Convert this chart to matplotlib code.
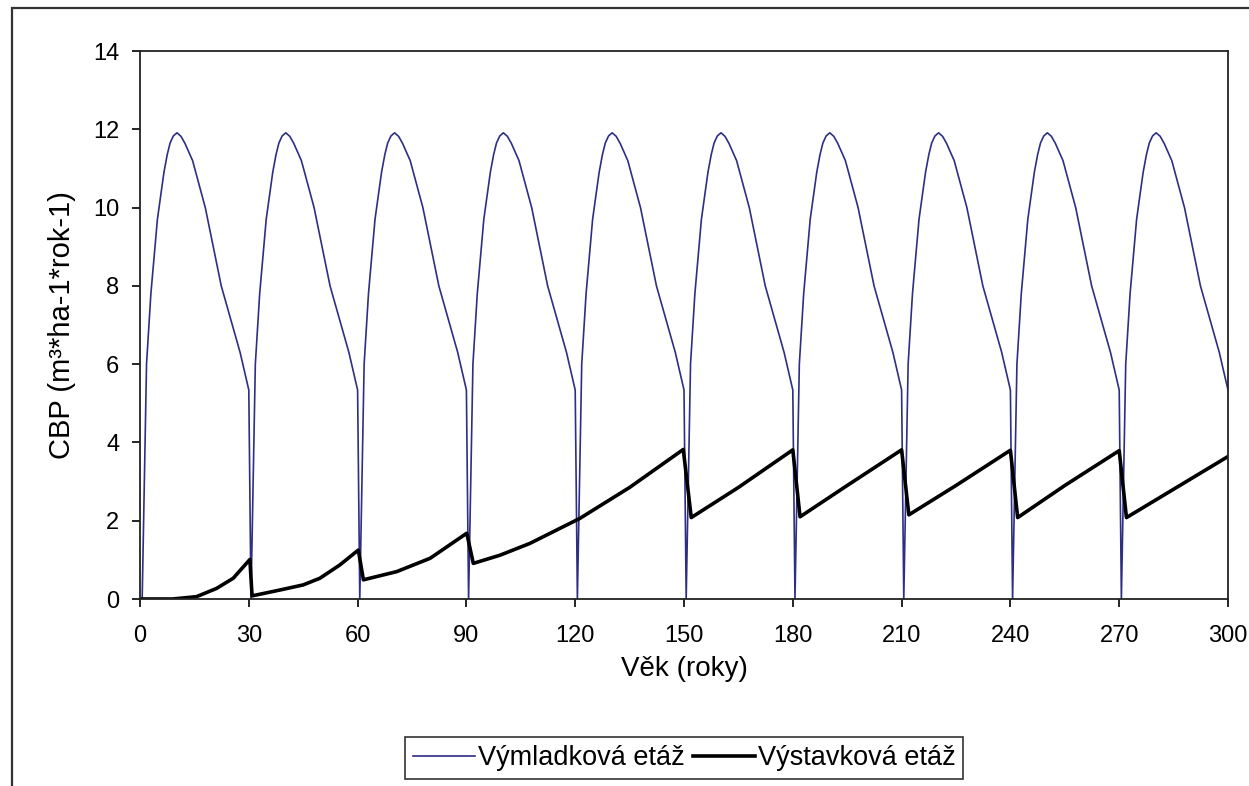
import numpy as np
import matplotlib.pyplot as plt
from matplotlib.patches import Rectangle

plt.rcParams['font.family'] = ['Liberation Sans', 'DejaVu Sans']

# one regeneration cycle of the coppice layer (offset from cycle start, CBP)
cycle_start = [0, 30, 60, 90, 120, 150, 180, 210, 240, 270]
vym_offset = [0.6, 1.8, 3.0, 4.8, 6.6, 7.5, 8.3, 9.2, 10.2, 11.3, 12.4, 14.5, 18.0, 22.4, 27.6, 30.0]
vym_value = [0.0, 6.0, 7.8, 9.7, 10.9, 11.35, 11.65, 11.83, 11.91, 11.82, 11.64, 11.2, 10.0, 8.0, 6.3, 5.34]

# standards layer
vys_age = [0, 9, 15.6, 21.1, 25.7, 30.3, 30.9, 38.6, 45, 49.6, 55.1, 60.2, 61.6,
           70.8, 80, 90.1, 91.9, 99.3, 107.5, 121.3, 135, 149.8, 152,
           165, 180, 182, 195, 210, 212, 225, 240, 242, 255, 270, 272, 300]
vys_value = [0, 0, 0.06, 0.27, 0.53, 1.01, 0.08, 0.23, 0.36, 0.53, 0.87, 1.25, 0.49,
             0.70, 1.04, 1.68, 0.91, 1.12, 1.42, 2.06, 2.85, 3.82, 2.08,
             2.85, 3.81, 2.10, 2.9, 3.81, 2.15, 2.9, 3.80, 2.08, 2.9, 3.79, 2.08, 3.64]

vym_age = np.concatenate([s + np.array(vym_offset) for s in cycle_start])
vym_all = np.tile(vym_value, len(cycle_start))

fig = plt.figure(figsize=(12.49, 7.86), dpi=100)
fig.patches.append(Rectangle((12 / 1249, -0.1), 1.2, 1 - 8 / 786 + 0.1,
                             transform=fig.transFigure, fill=False,
                             edgecolor='#333333', linewidth=1.6, clip_on=False))

ax = fig.add_axes([140 / 1249, 1 - 599 / 786, 1088 / 1249, 548 / 786])
ax.plot(vym_age, vym_all, color='#2E2E85', lw=1.2, label='Výmladková etáž')
ax.plot(vys_age, vys_value, color='black', lw=2.6, label='Výstavková etáž')

ax.set_xlim(0, 300)
ax.set_ylim(0, 14)
ax.set_xticks(range(0, 301, 30))
ax.set_yticks(range(0, 15, 2))
ax.tick_params(axis='both', direction='out', length=6, width=1.2, labelsize=17)
ax.tick_params(axis='x', pad=13)
ax.tick_params(axis='y', pad=9)
for s in ax.spines.values():
    s.set_linewidth(1.3)
    s.set_color('#222222')

ax.set_xlabel('Věk (roky)', fontsize=20, labelpad=6)
ax.set_ylabel('CBP (m³*ha-1*rok-1)', fontsize=21, labelpad=12)

leg = ax.legend(loc='center', bbox_to_anchor=(684 / 1249, 1 - 758 / 786), bbox_transform=fig.transFigure,
                ncol=2, fontsize=19.5, frameon=True, fancybox=False, handlelength=2.3,
                handletextpad=0.1, columnspacing=0.3, borderpad=0.3, borderaxespad=0)
leg.get_frame().set_edgecolor('black')
leg.get_frame().set_linewidth(1.2)

fig.savefig('out.png', dpi=100)
